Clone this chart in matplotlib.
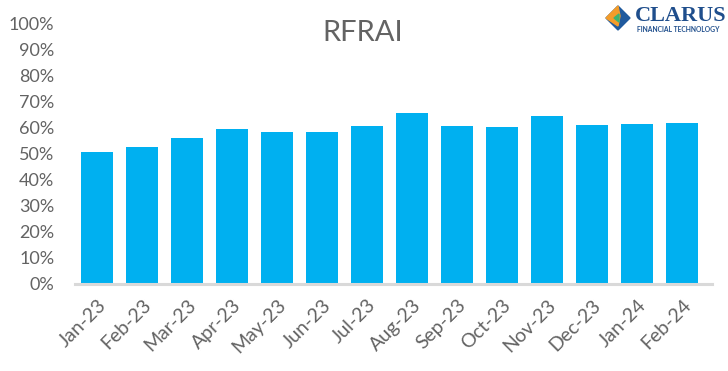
import matplotlib
matplotlib.use("Agg")
import matplotlib.pyplot as plt
from matplotlib.patches import Polygon
from matplotlib.ticker import FuncFormatter

months = ["Jan-23", "Feb-23", "Mar-23", "Apr-23", "May-23", "Jun-23", "Jul-23",
          "Aug-23", "Sep-23", "Oct-23", "Nov-23", "Dec-23", "Jan-24", "Feb-24"]
rfrai = [0.508, 0.527, 0.562, 0.596, 0.585, 0.585, 0.608,
         0.658, 0.608, 0.604, 0.646, 0.612, 0.615, 0.619]
yticks = [i / 10 for i in range(11)]

plt.rcParams['font.family'] = ['Lato', 'DejaVu Sans']
gray = '#636363'

fig = plt.figure(figsize=(7.28, 3.71), dpi=100)
ax = fig.add_axes([75 / 728, 1 - 284 / 371, (712 - 75) / 728, (284 - 24) / 371])

x = list(range(len(months)))
ax.bar(x, rfrai, width=0.71, color='#00b0f0', zorder=2)
ax.set_xlim(-0.49, 13.67)
ax.set_ylim(0, 1)
ax.set_yticks(yticks)
ax.yaxis.set_major_formatter(FuncFormatter(lambda v, p: f"{v*100:.0f}%"))
ax.set_xticks(x)
ax.set_xticklabels(months, rotation=45, ha='right', rotation_mode='anchor')

for s in ['top', 'right', 'left']:
    ax.spines[s].set_visible(False)
ax.spines['bottom'].set_color('#d9d9d9')
ax.spines['bottom'].set_linewidth(2.2)
ax.tick_params(axis='y', length=0, labelsize=13, colors=gray, pad=15)
ax.tick_params(axis='x', length=0, labelsize=14, colors=gray, pad=9)

fig.text(363 / 728, 1 - 33 / 371, "RFRAI", ha='center', va='center',
         fontsize=21, color=gray)

# Logo
lx, ly = 618, 18  # diamond center (px)
r = 12
def P(px, py):
    return (px / 728, 1 - py / 371)
fig.patches.append(Polygon([P(lx, ly - r), P(lx + r, ly), P(lx, ly + r), P(lx - r, ly)],
                           closed=True, transform=fig.transFigure, color='#1f5a9e', zorder=5))
fig.patches.append(Polygon([P(lx, ly - r), P(lx - r, ly), P(lx, ly + r - 4), P(lx + 2, ly - 2)],
                           closed=True, transform=fig.transFigure, color='#f39c2a', zorder=6))
fig.patches.append(Polygon([P(lx + 1, ly - 4), P(lx - 4, ly), P(lx + 1, ly + 4)],
                           closed=True, transform=fig.transFigure, color='#3cb371', zorder=7))
fig.text(635 / 728, 1 - 16 / 371, "CLARUS", ha='left', va='center', fontsize=16,
         color='#1f4e8c', family=['Liberation Serif', 'DejaVu Serif'], fontweight='bold')
fig.text(637 / 728, 1 - 30 / 371, "FINANCIAL TECHNOLOGY", ha='left', va='center',
         fontsize=4.9, color='#1f4e8c', fontweight='bold')

fig.savefig("out.png", dpi=100, facecolor='white')
